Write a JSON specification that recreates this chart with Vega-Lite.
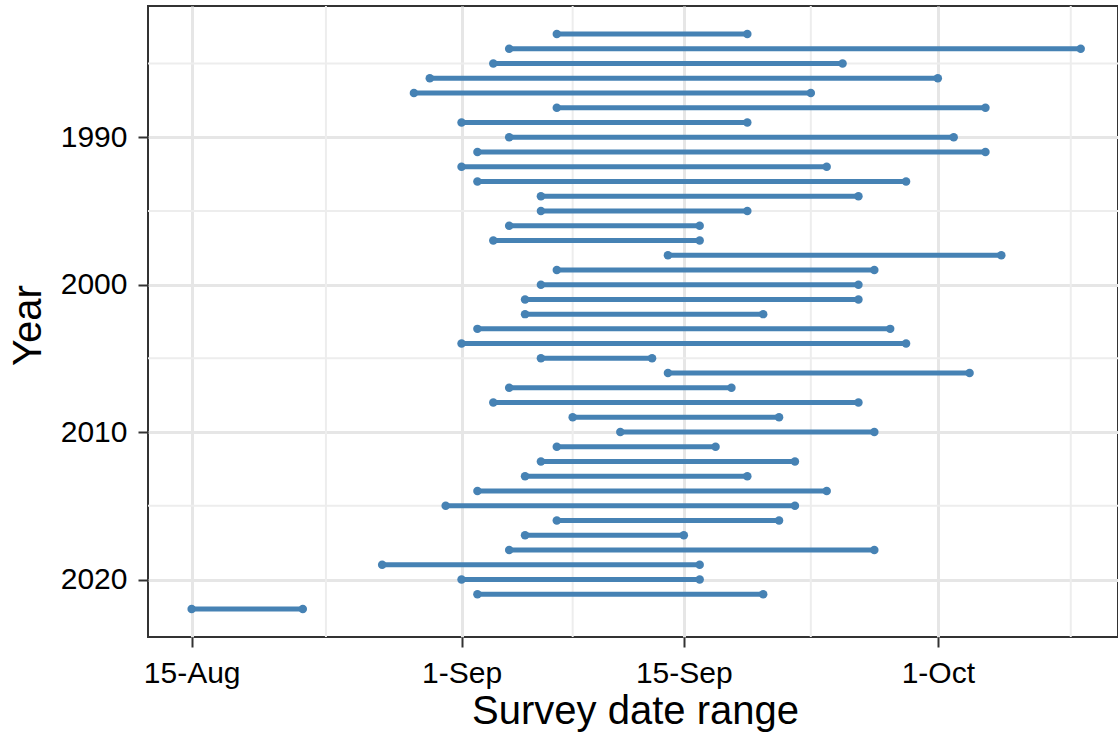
{
  "$schema": "https://vega.github.io/schema/vega-lite/v6.json",
  "width": 970,
  "height": 631,
  "autosize": {"type": "none"},
  "padding": {"left": 148, "top": 6, "right": 0, "bottom": 103},
  "background": "white",
  "config": {
    "view": {"stroke": "#333333", "strokeWidth": 2},
    "font": "Liberation Sans"
  },
  "datasets": {
    "surveys": [
      {"year": 1983, "start": "2021-09-07", "end": "2021-09-19"},
      {"year": 1984, "start": "2021-09-04", "end": "2021-10-10"},
      {"year": 1985, "start": "2021-09-03", "end": "2021-09-25"},
      {"year": 1986, "start": "2021-08-30", "end": "2021-10-01"},
      {"year": 1987, "start": "2021-08-29", "end": "2021-09-23"},
      {"year": 1988, "start": "2021-09-07", "end": "2021-10-04"},
      {"year": 1989, "start": "2021-09-01", "end": "2021-09-19"},
      {"year": 1990, "start": "2021-09-04", "end": "2021-10-02"},
      {"year": 1991, "start": "2021-09-02", "end": "2021-10-04"},
      {"year": 1992, "start": "2021-09-01", "end": "2021-09-24"},
      {"year": 1993, "start": "2021-09-02", "end": "2021-09-29"},
      {"year": 1994, "start": "2021-09-06", "end": "2021-09-26"},
      {"year": 1995, "start": "2021-09-06", "end": "2021-09-19"},
      {"year": 1996, "start": "2021-09-04", "end": "2021-09-16"},
      {"year": 1997, "start": "2021-09-03", "end": "2021-09-16"},
      {"year": 1998, "start": "2021-09-14", "end": "2021-10-05"},
      {"year": 1999, "start": "2021-09-07", "end": "2021-09-27"},
      {"year": 2000, "start": "2021-09-06", "end": "2021-09-26"},
      {"year": 2001, "start": "2021-09-05", "end": "2021-09-26"},
      {"year": 2002, "start": "2021-09-05", "end": "2021-09-20"},
      {"year": 2003, "start": "2021-09-02", "end": "2021-09-28"},
      {"year": 2004, "start": "2021-09-01", "end": "2021-09-29"},
      {"year": 2005, "start": "2021-09-06", "end": "2021-09-13"},
      {"year": 2006, "start": "2021-09-14", "end": "2021-10-03"},
      {"year": 2007, "start": "2021-09-04", "end": "2021-09-18"},
      {"year": 2008, "start": "2021-09-03", "end": "2021-09-26"},
      {"year": 2009, "start": "2021-09-08", "end": "2021-09-21"},
      {"year": 2010, "start": "2021-09-11", "end": "2021-09-27"},
      {"year": 2011, "start": "2021-09-07", "end": "2021-09-17"},
      {"year": 2012, "start": "2021-09-06", "end": "2021-09-22"},
      {"year": 2013, "start": "2021-09-05", "end": "2021-09-19"},
      {"year": 2014, "start": "2021-09-02", "end": "2021-09-24"},
      {"year": 2015, "start": "2021-08-31", "end": "2021-09-22"},
      {"year": 2016, "start": "2021-09-07", "end": "2021-09-21"},
      {"year": 2017, "start": "2021-09-05", "end": "2021-09-15"},
      {"year": 2018, "start": "2021-09-04", "end": "2021-09-27"},
      {"year": 2019, "start": "2021-08-27", "end": "2021-09-16"},
      {"year": 2020, "start": "2021-09-01", "end": "2021-09-16"},
      {"year": 2021, "start": "2021-09-02", "end": "2021-09-20"},
      {"year": 2022, "start": "2021-08-15", "end": "2021-08-22"}
    ],
    "minorX": [
      {"d": "2021-08-23T11:00:00Z"},
      {"d": "2021-09-08T00:00:00Z"},
      {"d": "2021-09-23T00:00:00Z"},
      {"d": "2021-10-09T09:00:00Z"}
    ],
    "minorY": [
      {"yr": 1985}, {"yr": 1995}, {"yr": 2005}, {"yr": 2015}
    ]
  },
  "layer": [
    {
      "data": {"name": "minorX"},
      "mark": {"type": "rule", "color": "#EDEDED", "strokeWidth": 2},
      "encoding": {
        "x": {
          "field": "d",
          "type": "temporal",
          "scale": {
            "type": "utc",
            "domain": [
              {"year": 2021, "month": "aug", "date": 12, "hours": 6, "utc": true},
              {"year": 2021, "month": "oct", "date": 12, "hours": 8, "minutes": 24, "utc": true}
            ],
            "nice": false
          },
          "axis": {
            "values": [
              {"year": 2021, "month": "aug", "date": 15, "utc": true},
              {"year": 2021, "month": "sep", "date": 1, "utc": true},
              {"year": 2021, "month": "sep", "date": 15, "utc": true},
              {"year": 2021, "month": "oct", "date": 1, "utc": true}
            ],
            "labelExpr": "utcFormat(datum.value, '%-d-%b')",
            "grid": true,
            "gridColor": "#E6E6E6",
            "gridWidth": 3,
            "domain": false,
            "ticks": true,
            "tickColor": "#333333",
            "tickWidth": 2,
            "tickSize": 10,
            "labelFontSize": 30,
            "labelColor": "#000000",
            "labelPadding": 11,
            "labelFlush": false,
            "labelOverlap": false,
            "title": "Survey date range",
            "titleFontSize": 40,
            "titleFontWeight": "normal",
            "titleColor": "#000000",
            "titleX": 487,
            "titleY": 86,
            "titleBaseline": "alphabetic",
            "titleAlign": "center"
          }
        }
      }
    },
    {
      "data": {"name": "minorY"},
      "mark": {"type": "rule", "color": "#EDEDED", "strokeWidth": 2},
      "encoding": {
        "y": {
          "field": "yr",
          "type": "quantitative",
          "scale": {"domain": [1981.1, 2023.9], "reverse": true, "nice": false, "zero": false},
          "axis": {
            "values": [1990, 2000, 2010, 2020],
            "format": "d",
            "grid": true,
            "gridColor": "#E6E6E6",
            "gridWidth": 3,
            "domain": false,
            "tickColor": "#333333",
            "tickWidth": 2,
            "tickSize": 10,
            "labelFontSize": 30,
            "labelColor": "#000000",
            "labelPadding": 11,
            "labelFlush": false,
            "labelOverlap": false,
            "title": "Year",
            "titleFontSize": 40,
            "titleFontWeight": "normal",
            "titleColor": "#000000",
            "titleX": -108,
            "titleY": 319,
            "titleAngle": 270,
            "titleBaseline": "alphabetic",
            "titleAlign": "center"
          }
        }
      }
    },
    {
      "data": {"name": "surveys"},
      "mark": {"type": "rule", "color": "#4682B4", "strokeWidth": 5},
      "encoding": {
        "x": {"field": "start", "type": "temporal", "scale": {"type": "utc"}, "title": "Survey date range"},
        "x2": {"field": "end"},
        "y": {"field": "year", "type": "quantitative", "title": "Year"}
      }
    },
    {
      "data": {"name": "surveys"},
      "mark": {"type": "point", "filled": true, "color": "#4682B4", "size": 72, "opacity": 1},
      "encoding": {
        "x": {"field": "start", "type": "temporal", "scale": {"type": "utc"}, "title": "Survey date range"},
        "y": {"field": "year", "type": "quantitative", "title": "Year"}
      }
    },
    {
      "data": {"name": "surveys"},
      "mark": {"type": "point", "filled": true, "color": "#4682B4", "size": 72, "opacity": 1},
      "encoding": {
        "x": {"field": "end", "type": "temporal", "scale": {"type": "utc"}, "title": "Survey date range"},
        "y": {"field": "year", "type": "quantitative", "title": "Year"}
      }
    }
  ]
}
